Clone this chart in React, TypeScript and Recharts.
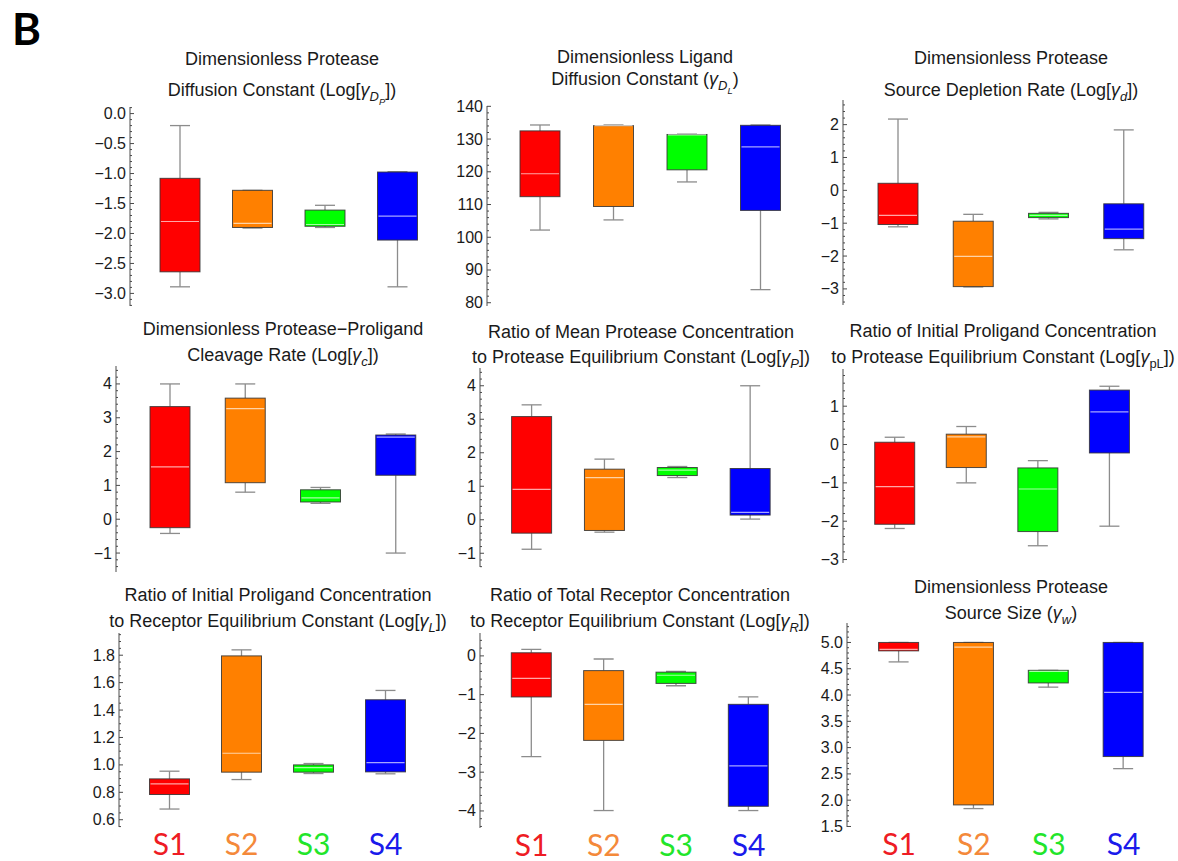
import React from "react";
import { BarChart, Bar, XAxis, YAxis } from "recharts";

const groups = ["S1", "S2", "S3", "S4"];
const boxFills = ["#ff0000", "#ff8000", "#00ff00", "#0000ff"];
const groupColors = ["#ee1c24", "#f4893a", "#22e52a", "#1a1aeb"];

// [lower whisker, Q1, median, Q3, upper whisker] for S1..S4
const proteaseDiffusion = [
  [-2.89, -2.64, -1.8, -1.08, -0.2],
  [-1.91, -1.9, -1.83, -1.28, -1.28],
  [-1.9, -1.88, -1.85, -1.61, -1.53],
  [-2.89, -2.11, -1.71, -0.975, -0.97],
];
const ligandDiffusion = [
  [102.2, 112.4, 119.4, 132.5, 134.3],
  [105.3, 109.4, 134.1, 134.1, 134.3],
  [116.9, 120.6, 131.3, 131.4, 131.5],
  [84.0, 108.2, 127.6, 134.2, 134.3],
];
const sourceDepletion = [
  [-1.11, -1.04, -0.76, 0.215, 2.17],
  [-2.94, -2.93, -2.01, -0.94, -0.73],
  [-0.87, -0.83, -0.76, -0.7, -0.67],
  [-1.81, -1.47, -1.18, -0.41, 1.84],
];
const cleavageRate = [
  [-0.42, -0.25, 1.55, 3.33, 4.0],
  [0.8, 1.08, 3.27, 3.58, 4.0],
  [0.47, 0.51, 0.63, 0.87, 0.94],
  [-1.0, 1.3, 2.43, 2.49, 2.52],
];
const meanProtease = [
  [-0.88, -0.4, 0.91, 3.08, 3.43],
  [-0.37, -0.32, 1.26, 1.51, 1.81],
  [1.26, 1.32, 1.48, 1.56, 1.59],
  [0.02, 0.14, 0.22, 1.53, 4.0],
];
const proligandProtease = [
  [-2.19, -2.08, -1.1, 0.06, 0.19],
  [-1.0, -0.6, 0.2, 0.27, 0.47],
  [-2.64, -2.27, -1.16, -0.61, -0.42],
  [-2.13, -0.22, 0.85, 1.42, 1.52],
];
const proligandReceptor = [
  [0.678, 0.784, 0.862, 0.898, 0.954],
  [0.893, 0.947, 1.085, 1.795, 1.839],
  [0.937, 0.947, 0.98, 1.0, 1.01],
  [0.935, 0.949, 1.017, 1.475, 1.543],
];
const totalReceptor = [
  [-2.6, -1.06, -0.58, 0.08, 0.17],
  [-3.99, -2.18, -1.25, -0.38, -0.08],
  [-0.77, -0.71, -0.5, -0.42, -0.4],
  [-3.99, -3.88, -2.84, -1.25, -1.06],
];
const sourceSize = [
  [4.63, 4.84, 4.87, 5.0, 5.0],
  [1.84, 1.91, 4.91, 5.0, 5.0],
  [4.15, 4.23, 4.45, 4.47, 4.47],
  [2.6, 2.83, 4.05, 5.0, 5.0],
];

const FONT = "'Liberation Sans', Arial, sans-serif";
const AXIS = "#4a4a4a";
const Y_AXIS_W = 60;
const X_LABEL_H = 34;
const PAD = 12; // room above/below the plot so end labels are not clipped

const subStyle: React.CSSProperties = { fontSize: "0.72em", lineHeight: 0 };

const gamma = (sub: React.ReactNode) => (
  <>
    <i>γ</i>
    <sub style={subStyle}>{sub}</sub>
  </>
);

const panels = [
  {
    data: proteaseDiffusion,
    title: ["Dimensionless Protease", <>Diffusion Constant (Log[{gamma(<><i>D</i><sub style={subStyle}><i>P</i></sub></>)}])</>],
    titleX: 282, titleY: [59, 91],
    domain: [-3.21, 0.11], major: 0.5, minor: 0.1, digits: 1,
    axisX: 130, top: 107, bottom: 306, padLeft: 14, plotW: 304,
  },
  {
    data: ligandDiffusion,
    title: ["Dimensionless Ligand", <>Diffusion Constant ({gamma(<><i>D</i><sub style={subStyle}><i>L</i></sub></>)})</>],
    titleX: 645, titleY: [57, 80],
    domain: [79, 140.1], major: 10, minor: 2, digits: 0,
    axisX: 487, top: 106, bottom: 306, padLeft: 16, plotW: 310,
  },
  {
    data: sourceDepletion,
    title: ["Dimensionless Protease", <>Source Depletion Rate (Log[{gamma(<i>d</i>)}])</>],
    titleX: 1011, titleY: [58, 90],
    domain: [-3.49, 2.75], major: 1, minor: 0.2, digits: 0,
    axisX: 843, top: 100, bottom: 305, padLeft: 17, plotW: 318,
  },
  {
    data: cleavageRate,
    title: ["Dimensionless Protease\u2212Proligand", <>Cleavage Rate (Log[{gamma(<i>c</i>)}])</>],
    titleX: 283, titleY: [329, 355],
    domain: [-1.56, 4.53], major: 1, minor: 0.2, digits: 0,
    axisX: 116, top: 366, bottom: 572, padLeft: 16, plotW: 317,
  },
  {
    data: meanProtease,
    title: ["Ratio of Mean Protease Concentration", <>to Protease Equilibrium Constant (Log[{gamma(<i>P</i>)}])</>],
    titleX: 641, titleY: [332, 357],
    domain: [-1.41, 4.53], major: 1, minor: 0.2, digits: 0,
    axisX: 480, top: 368, bottom: 567, padLeft: 15.6, plotW: 307,
  },
  {
    data: proligandProtease,
    title: ["Ratio of Initial Proligand Concentration", <>to Protease Equilibrium Constant (Log[{gamma("pL")}])</>],
    titleX: 1003, titleY: [331, 357],
    domain: [-3.09, 1.97], major: 1, minor: 0.2, digits: 0,
    axisX: 843, top: 369, bottom: 563, padLeft: 15.7, plotW: 302,
  },
  {
    data: proligandReceptor,
    title: ["Ratio of Initial Proligand Concentration", <>to Receptor Equilibrium Constant (Log[{gamma(<i>L</i>)}])</>],
    titleX: 278, titleY: [595, 621],
    domain: [0.547, 1.962], major: 0.2, minor: 0.05, digits: 1,
    axisX: 119, top: 633, bottom: 827, padLeft: 14.5, plotW: 302.5,
    xLabels: true,
  },
  {
    data: totalReceptor,
    title: ["Ratio of Total Receptor Concentration", <>to Receptor Equilibrium Constant (Log[{gamma(<i>R</i>)}])</>],
    titleX: 640, titleY: [595, 621],
    domain: [-4.44, 0.59], major: 1, minor: 0.2, digits: 0,
    axisX: 480, top: 633, bottom: 828, padLeft: 15.3, plotW: 304.7,
    xLabels: true,
  },
  {
    data: sourceSize,
    title: ["Dimensionless Protease", <>Source Size ({gamma(<i>w</i>)})</>],
    titleX: 1011, titleY: [587, 613],
    domain: [1.49, 5.37], major: 0.5, minor: 0.1, digits: 1,
    axisX: 847, top: 623, bottom: 827, padLeft: 14.6, plotW: 314,
    xLabels: true,
  },
];

function tickValues(domain: number[], step: number) {
  const out: number[] = [];
  for (let i = Math.ceil(domain[0] / step - 1e-9); i * step <= domain[1] + 1e-9; i++) {
    out.push(Math.round(i * step * 1e6) / 1e6);
  }
  return out;
}

function YTick(props: any) {
  const { x, y, payload, major, digits } = props;
  const v = payload.value;
  const isMajor = Math.abs(v / major - Math.round(v / major)) < 1e-6;
  return (
    <g>
      <line x1={x} x2={x + (isMajor ? 4 : 2)} y1={y} y2={y} stroke={AXIS} strokeWidth={1} />
      {isMajor && (
        <text
          x={x - 4}
          y={y}
          textAnchor="end"
          dominantBaseline="central"
          fontFamily={FONT}
          fontSize={16}
          fill="#1a1a1a"
        >
          {v.toFixed(digits).replace("-", "\u2212")}
        </text>
      )}
    </g>
  );
}

function GroupTick(props: any) {
  const { x, y, payload, index } = props;
  return (
    <text
      x={x}
      y={y + 28}
      textAnchor="middle"
      fontFamily="Lato, 'Open Sans', sans-serif"
      fontSize={30}
      fill={groupColors[index]}
    >
      {payload.value}
    </text>
  );
}

// Bar value is the whisker range; the rest of the box is placed on the same linear scale
function BoxShape(props: any) {
  const { x, y, width, height, payload } = props;
  const [lo, q1, med, q3, hi] = payload.stats;
  const py = (v: number) => y + ((hi - v) / (hi - lo)) * height;
  const cx = x + width / 2;
  const cap = width / 4;
  const whisker = { stroke: "#8c8c8c", strokeWidth: 1.3 };
  return (
    <g>
      <line x1={cx} x2={cx} y1={py(hi)} y2={py(q3)} {...whisker} />
      <line x1={cx} x2={cx} y1={py(q1)} y2={py(lo)} {...whisker} />
      <line x1={cx - cap} x2={cx + cap} y1={py(hi)} y2={py(hi)} {...whisker} />
      <line x1={cx - cap} x2={cx + cap} y1={py(lo)} y2={py(lo)} {...whisker} />
      <rect
        x={x}
        y={py(q3)}
        width={width}
        height={py(q1) - py(q3)}
        fill={payload.fill}
        stroke="#333"
        strokeOpacity={0.85}
        strokeWidth={1}
      />
      <line
        x1={x + 1}
        x2={x + width - 1}
        y1={py(med)}
        y2={py(med)}
        stroke="#fff"
        strokeOpacity={0.65}
        strokeWidth={1.2}
      />
    </g>
  );
}

function Panel({ p }: { p: (typeof panels)[number] }) {
  const rows = groups.map((name, i) => ({ name, stats: p.data[i], fill: boxFills[i] }));
  const plotH = p.bottom - p.top;
  const h = plotH + (p.xLabels ? PAD + X_LABEL_H : 2 * PAD);
  return (
    <>
      {p.title.map((line, i) => (
        <div
          key={i}
          style={{
            position: "absolute",
            left: p.titleX,
            top: p.titleY[i],
            transform: "translate(-50%, -50%)",
            whiteSpace: "nowrap",
            fontFamily: FONT,
            fontSize: 18,
            lineHeight: "20px",
            color: "#1a1a1a",
          }}
        >
          {line}
        </div>
      ))}
      <div style={{ position: "absolute", left: p.axisX - Y_AXIS_W, top: p.top - PAD }}>
        <BarChart
          width={Y_AXIS_W + p.plotW}
          height={h}
          data={rows}
          margin={{ top: PAD, right: 0, bottom: p.xLabels ? 0 : PAD, left: 0 }}
          style={{ overflow: "visible" }}
        >
          <XAxis
            dataKey="name"
            type="category"
            hide={!p.xLabels}
            height={X_LABEL_H}
            padding={{ left: p.padLeft, right: 0 }}
            axisLine={false}
            tickLine={false}
            tickSize={0}
            tickMargin={0}
            interval={0}
            tick={(t: any) => <GroupTick {...t} />}
          />
          <YAxis
            type="number"
            width={Y_AXIS_W}
            domain={p.domain}
            allowDataOverflow
            ticks={tickValues(p.domain, p.minor)}
            interval={0}
            tickSize={0}
            tickMargin={0}
            tickLine={false}
            axisLine={{ stroke: AXIS, strokeWidth: 1 }}
            tick={(t: any) => <YTick {...t} major={p.major} digits={p.digits} />}
          />
          <Bar
            dataKey={(d: any) => [d.stats[0], d.stats[4]]}
            barSize={40}
            shape={(b: any) => <BoxShape {...b} />}
            isAnimationActive={false}
          />
        </BarChart>
      </div>
    </>
  );
}

export default function App() {
  return (
    <div
      style={{
        position: "absolute",
        left: 0,
        top: 0,
        width: 1178,
        height: 861,
        background: "#fff",
        overflow: "hidden",
      }}
    >
      <svg width={60} height={60} style={{ position: "absolute", left: 0, top: 0 }}>
        <text x={12} y={45} fontFamily="Lato, sans-serif" fontWeight={700} fontSize={44} fill="#000">
          B
        </text>
      </svg>
      {panels.map((p, i) => (
        <Panel key={i} p={p} />
      ))}
    </div>
  );
}
